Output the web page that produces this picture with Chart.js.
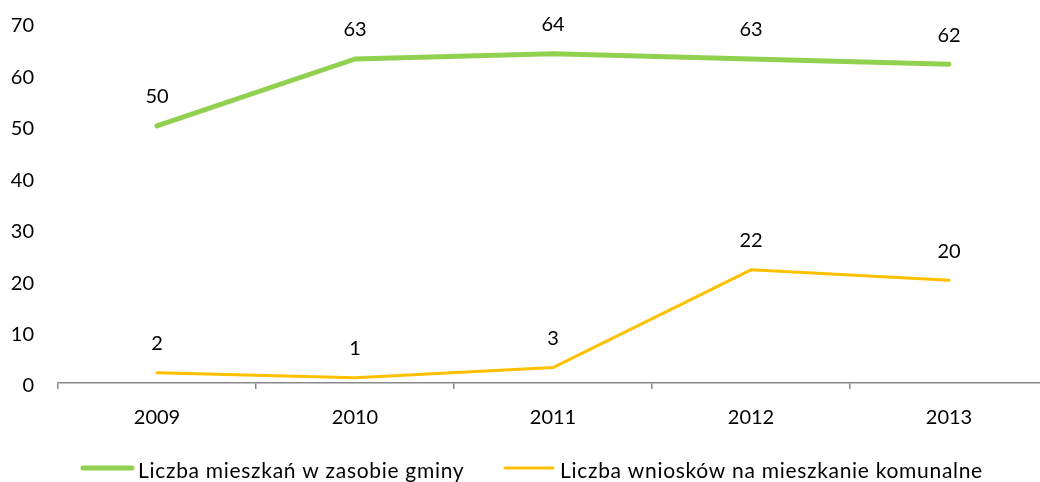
<!DOCTYPE html>
<html>
<head>
<meta charset="utf-8">
<script src="https://cdn.jsdelivr.net/npm/chart.js@4/dist/chart.umd.min.js"></script>
<style>
  html, body { margin: 0; padding: 0; background: #fff; overflow: hidden; }
  #wrap { position: relative; width: 1050px; height: 482px; }
</style>
</head>
<body>
<div id="wrap"><canvas id="c"></canvas></div>
<script>
const categories = ['2009', '2010', '2011', '2012', '2013'];
const seriesNames = ['Liczba mieszkań w zasobie gminy', 'Liczba wniosków na mieszkanie komunalne'];
const flatsInStock = [50, 63, 64, 63, 62];
const applications = [2, 1, 3, 22, 20];
const yTicks = [0, 10, 20, 30, 40, 50, 60, 70];

const FONT = 'Lato, "Open Sans", sans-serif';
const colors = ['#92D050', '#FFC000'];

const valueLabels = {
  id: 'valueLabels',
  afterDatasetsDraw(chart) {
    const ctx = chart.ctx;
    ctx.save();
    ctx.font = '20px ' + FONT;
    ctx.fillStyle = '#000';
    ctx.textAlign = 'center';
    ctx.textBaseline = 'middle';
    chart.data.datasets.forEach((ds, i) => {
      const meta = chart.getDatasetMeta(i);
      meta.data.forEach((pt, j) => {
        ctx.fillText(String(ds.data[j]), pt.x, pt.y - 29);
      });
    });
    ctx.restore();
  }
};

const customLegend = {
  id: 'customLegend',
  afterDraw(chart) {
    const ctx = chart.ctx;
    const items = [
      { x1: 83, x2: 132, tx: 138, w: 5 },
      { x1: 505, x2: 553, tx: 560, w: 3 }
    ];
    const y = 468;
    ctx.save();
    ctx.font = '21px ' + FONT;
    try { ctx.letterSpacing = '0.7px'; } catch (e) {}
    ctx.textBaseline = 'middle';
    ctx.textAlign = 'left';
    chart.data.datasets.forEach((ds, i) => {
      const it = items[i];
      ctx.strokeStyle = ds.borderColor;
      ctx.lineWidth = it.w;
      ctx.lineCap = 'round';
      ctx.beginPath();
      ctx.moveTo(it.x1, y);
      ctx.lineTo(it.x2, y);
      ctx.stroke();
      ctx.fillStyle = '#000';
      ctx.fillText(ds.label, it.tx, y + 3);
    });
    ctx.restore();
  }
};

new Chart(document.getElementById('c'), {
  type: 'line',
  data: {
    labels: categories,
    datasets: [
      { label: seriesNames[0], data: flatsInStock, borderColor: colors[0], backgroundColor: colors[0],
        borderWidth: 5, pointRadius: 0, tension: 0, borderCapStyle: 'round', borderJoinStyle: 'round' },
      { label: seriesNames[1], data: applications, borderColor: colors[1], backgroundColor: colors[1],
        borderWidth: 3, pointRadius: 0, tension: 0, borderCapStyle: 'round', borderJoinStyle: 'round' }
    ]
  },
  options: {
    responsive: true,
    maintainAspectRatio: false,
    animation: false,
    layout: { padding: { top: 23, right: 2, left: 0, bottom: 0 } },
    plugins: { legend: { display: false }, tooltip: { enabled: false } },
    scales: {
      x: {
        offset: true,
        grid: { display: true, offset: true, drawOnChartArea: false, drawTicks: true, tickLength: 6, color: '#888', lineWidth: 1.5 },
        border: { display: true, color: '#888', width: 1.5 },
        ticks: { font: { family: FONT, size: 20 }, color: '#000', padding: 17, maxRotation: 0 },
        afterFit(scale) { scale.height = 99; }
      },
      y: {
        min: 0, max: 70,
        afterBuildTicks(scale) { scale.ticks = yTicks.map(v => ({ value: v })); },
        grid: { display: false, drawTicks: false },
        border: { display: false },
        ticks: { font: { family: FONT, size: 20 }, color: '#000', padding: 24, labelOffset: 3 },
        afterFit(scale) { scale.width = 58; scale.paddingTop = 0; scale.paddingBottom = 0; }
      }
    }
  },
  plugins: [valueLabels, customLegend]
});
</script>
</body>
</html>
